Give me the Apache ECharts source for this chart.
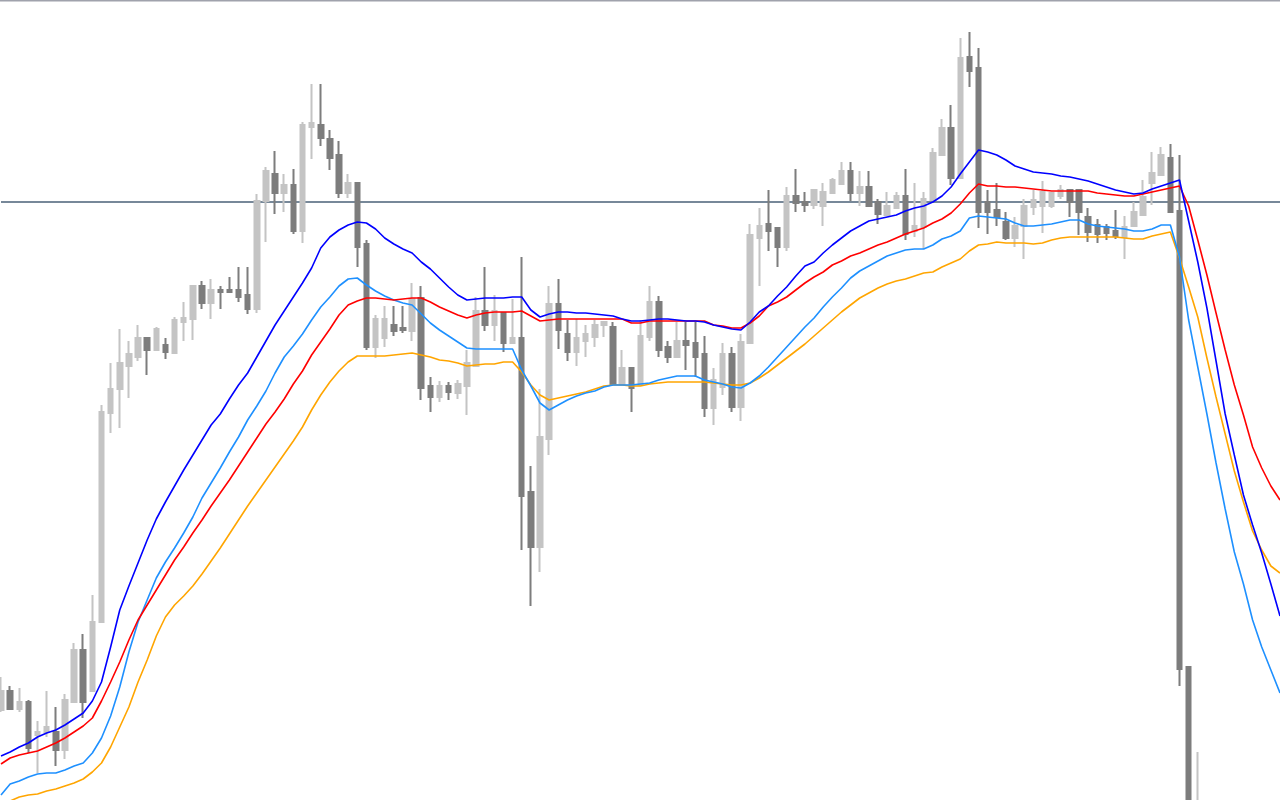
<!DOCTYPE html>
<html>
<head>
<meta charset="utf-8">
<script src="https://cdn.jsdelivr.net/npm/echarts/dist/echarts.min.js"></script>
<style>
html,body{margin:0;padding:0;background:#ffffff;}
#chart{width:1280px;height:800px;}
</style>
</head>
<body>
<div id="chart"></div>
<script>
// bar numbers (x categories)
const categories = Array.from({length: 141}, (_, i) => String(i + 1));

const opens = [2045,2054.5,2045.5,2049,2032.5,2034,2034,2025,2049,2075,
2054.5,2089,2193.5,2205.5,2217,2221.5,2231,2225,2227.5,2223.5,
2239,2240.5,2257,2248.5,2255,2255,2255,2252.5,2245.5,2299.5,
2313,2303.5,2307.5,2284.5,2336.5,2337.5,2330.5,2322.5,2303.5,2308.5,
2278,2226.5,2231,2237.5,2236,2234.5,2251,2207,2201.5,2207,
2203.5,2207,2217,2244.5,2237.5,2243.5,2228.5,2231,2154,2126.5,
2180.5,2248,2233,2224,2229.5,2231.5,2237.5,2236.5,2208,2216,
2207.5,2231.5,2249,2226.5,2221.5,2229.5,2228.5,2223,2196,2206.5,
2223,2196.5,2228.5,2281,2288,2286,2276.5,2302,2299,2297.5,
2297,2303.5,2308,2314.5,2303.5,2306.5,2299,2292.5,2296,2302,
2284.5,2286.5,2300,2322.5,2336,2311,2371.5,2366,2299,2295,
2289,2281,2287,2296.5,2297,2297,2302,2305,2305,2291.5,
2287.5,2286.5,2284.5,2281.5,2287,2292.5,2308.5,2312.5,2321,2294.5,
2066.5,1960,1985,1952,1930,1946,1928,1940,1935,1950,1938];

const closes = [2054.5,2045.5,2049,2026,2034,2036.5,2025,2050,2075,2049,
2089,2194,2205.5,2218.5,2223,2231,2225,2235.5,2224,2240,
2241,2257,2248.5,2255,2254,2254,2251.5,2245.5,2299.5,2314.5,
2303.5,2307.5,2284.5,2337.5,2338.5,2331,2321,2303.5,2308.5,2276.5,
2226.5,2240.5,2240.5,2234.5,2235,2250.5,2206,2201.5,2207,2204,
2208,2218.5,2244.5,2237.5,2244.5,2228.5,2231,2152,2126.5,2181.5,
2248,2235,2224,2231,2233,2237.5,2239,2208,2216,2206,
2232,2249,2225,2221.5,2229.5,2227.5,2221.5,2196,2210,2223,
2196.5,2229,2282.5,2287,2284.5,2276.5,2302,2298.5,2297.5,2305,
2304,2310,2314.5,2303.5,2306.5,2297,2293,2297,2302,2283,
2287,2300.5,2323.5,2336,2311,2371,2364.5,2294,2294,2291.5,
2281,2287,2297,2300,2304,2303.5,2305,2299,2294,2284,
2283,2283.5,2282,2286.5,2294,2301.5,2313.5,2322.5,2294,2065.5,
1950,1985,1952,1930,1946,1928,1940,1935,1950,1938,1944];

const highs = [2061.5,2057,2056,2050,2039.5,2054.5,2046.5,2053,2078.5,2083,
2102.5,2197.5,2218.5,2235.5,2229.5,2237.5,2231,2236.5,2231,2241.5,
2249,2257,2259.5,2260.5,2257,2261.5,2266.5,2266.5,2303,2316.5,
2324.5,2313,2315.5,2339,2358,2358,2335,2329.5,2313,2308.5,
2280,2242.5,2247,2247,2247,2258.5,2257,2211.5,2209.5,2209,
2210,2225,2251.5,2266.5,2252.5,2243.5,2250.5,2271.5,2167,2205.5,
2257,2260.5,2240,2240.5,2237.5,2240,2239,2239,2225,2216,
2240,2257,2252,2229.5,2239,2239,2239,2232,2216,2228.5,
2226.5,2233,2288,2296,2305,2286,2306.5,2315.5,2304,2305,
2308.5,2311,2319,2319,2314.5,2314.5,2300.5,2304,2304,2315.5,
2308.5,2304,2326,2340.5,2347.5,2381,2384,2376,2305,2308.5,
2294,2291.5,2300.5,2305,2309.5,2304,2307.5,2305,2305,2296,
2290.5,2288,2295,2292,2299,2310,2324,2326.5,2328,2322.5,
2067,2024,1992,1960,1951,1955,1948,1953,1958,1962,1955];

const lows = [2044,2045.5,2044,2023.5,2013.5,2031.5,2017,2020.5,2049,2041,
2054.5,2089,2183.5,2186,2201,2219.5,2212.5,2225,2220.5,2223.5,
2229.5,2230,2245.5,2240.5,2245.5,2254,2249,2243,2243.5,2279,
2293,2294,2283,2278.5,2320.5,2327,2315,2301,2301,2266.5,
2225,2221,2226.5,2232,2233.5,2229.5,2200,2194,2199,2200,
2200.5,2192.5,2217,2234.5,2229.5,2224,2228.5,2125,2097,2114,
2172.5,2225.5,2219.5,2217,2221.5,2226.5,2231.5,2208,2208,2194,
2207.5,2229.5,2221.5,2218.5,2221.5,2215,2211.5,2191.5,2187.5,2202.5,
2194,2189.5,2228.5,2257,2274.5,2266.5,2274.5,2294,2294,2295.5,
2287,2303.5,2308,2299.5,2297,2297,2288,2292.5,2295.5,2280,
2281.5,2275.5,2300,2322.5,2307.5,2311,2356.5,2286,2283,2287,
2280,2276.5,2270.5,2292.5,2283.5,2296,2300.5,2291.5,2282.5,2279,
2278.5,2280,2280.5,2270.5,2287,2292.5,2297.5,2312.5,2294,2057,
1935,1950,1940,1921,1922,1915,1920,1926,1930,1931,1930];

const maBlue = [2022,2024,2026.5,2028.5,2031.5,2033.5,2035,2037.5,2040.5,2043.5,
2049.5,2059,2076.5,2095,2107,2118.5,2130,2140.5,2149,2157,
2165,2172.5,2180,2187.5,2193,2200.5,2207.5,2213.5,2221.5,2229.5,
2237.5,2244.5,2251.5,2258.5,2266,2276,2281.5,2285,2287.5,2289,
2288.5,2285.5,2281,2278,2275.5,2273.5,2269,2265.5,2261,2256.5,
2252.5,2250,2250.5,2251,2251,2251,2251.5,2251.5,2245,2241.5,
2243,2244,2244,2243.5,2243.5,2243,2242.5,2242,2240.5,2239.5,
2239.5,2240,2240.5,2240.5,2240,2239.5,2239.5,2239,2237.5,2236.5,
2235.5,2235,2239,2244,2247,2252,2256.5,2262,2267,2269,
2273.5,2277.5,2281,2284.5,2287,2289.5,2290.5,2291.5,2292.5,2294.5,
2296,2297,2299,2302,2306.5,2313,2319,2325,2324,2322.5,
2320,2317,2315.5,2314,2313.5,2313,2312,2311.5,2310.5,2309.5,
2308,2306.5,2305,2304,2303,2303.5,2305.5,2307,2308.5,2310,
2289.5,2269,2246,2219.5,2193,2172.5,2152.5,2137.5,2123.5,2108,2092];

const maDodger = [2002.5,2008,2009.5,2011.5,2013,2013.5,2013.5,2015,2017,2018.5,
2023.5,2031,2042,2056.5,2074,2089,2100,2111,2119,2126,
2133.5,2141.5,2151,2158.5,2166,2174,2181.5,2190,2197,2204.5,
2213.5,2221.5,2227,2233,2240,2246.5,2251.5,2257,2260.5,2261,
2257.5,2254.5,2252,2250,2248.5,2247.5,2243,2238.5,2235,2232,
2229,2226,2225.5,2225.5,2225.5,2225.5,2225.5,2215,2207,2198.5,
2195,2197.5,2200,2202,2203.5,2204.5,2206.5,2207.5,2207.5,2207.5,
2208,2208.5,2210,2211,2212,2212,2212,2210,2209,2208,
2206.5,2206,2208.5,2212,2216.5,2221.5,2226.5,2231.5,2236.5,2241,
2246.5,2251.5,2256,2261,2264.5,2267,2269.5,2272,2273.5,2275,
2275.5,2275.5,2277.5,2280.5,2282,2284.5,2291,2292,2291.5,2291,
2290.5,2288.5,2287,2287,2287.5,2288,2289,2290,2290,2288,
2287,2286.5,2286,2285.5,2284.5,2284.5,2285.5,2287.5,2287.5,2271.5,
2240,2216.5,2193,2168.5,2145.5,2124,2108,2090,2076.5,2065,2053.5];

const maRed = [2018,2021,2022.5,2023.5,2024.5,2026.5,2028.5,2031,2034,2037,
2041,2049.5,2059,2069,2080,2090,2097.5,2105,2112.5,2120,
2126.5,2133.5,2140,2147,2153.5,2160,2167,2174,2181,2188,
2194,2200.5,2208,2214.5,2222.5,2229,2235.5,2242.5,2247.5,2249.5,
2251,2251,2250.5,2250,2250.5,2251,2251,2249,2246.5,2244.5,
2242.5,2241,2242.5,2243.5,2244,2244,2244,2244.5,2242,2239.5,
2240,2240.5,2240.5,2240.5,2240.5,2240.5,2240.5,2240.5,2240.5,2238.5,
2238.5,2239.5,2239.5,2239.5,2239.5,2239.5,2239.5,2239.5,2237.5,2237,
2236,2236,2238.5,2242,2247,2249,2251.5,2255,2258.5,2261.5,
2264,2267.5,2269.5,2272,2273.5,2275.5,2277.5,2279,2281,2283,
2284.5,2286,2288.5,2290.5,2293.5,2298,2303.5,2308,2307,2307,
2306.5,2306.5,2306,2305.5,2305,2304.5,2304.5,2304.5,2304.5,2304.5,
2303.5,2303,2302.5,2302,2302,2303,2304,2305,2306,2307,
2297,2280,2262.5,2243.5,2225,2207.5,2192.5,2176.5,2166,2157,2150];

const maOrange = [1998.5,1999.5,2001.5,2002.5,2003,2004.5,2005.5,2007,2008.5,2010.5,
2014,2018.5,2026.5,2036.5,2046.5,2059,2070,2082,2091.5,2097.5,
2102,2107,2113,2119.5,2126,2133,2140,2147,2153.5,2160,
2166.5,2173,2179.5,2186.5,2195,2202.5,2209,2214.5,2219,2222,
2222,2222,2222,2222.5,2223,2223.5,2222.5,2221.5,2220,2219.5,
2218.5,2217,2217.5,2218,2218,2219,2219,2214,2207.5,2202.5,
2200,2201,2202,2203,2204,2205.5,2207,2207.5,2207.5,2207,
2207,2208,2208.5,2209,2209,2209,2209,2209,2208.5,2208,
2207.5,2207.5,2208.5,2211,2214,2217.5,2221,2224.5,2228,2232,
2236,2240,2244,2247.5,2251,2253.5,2256,2258,2259.5,2260.5,
2262,2263.5,2264,2266.5,2268.5,2270.5,2274.5,2277.5,2278,2279,
2278.5,2278.5,2278.5,2278,2278.5,2280,2281,2281.5,2281.5,2281.5,
2281.5,2281.5,2281.5,2281,2280.5,2280.5,2282,2283,2284,2271,
2256.5,2241.5,2221,2201.5,2183,2164.5,2149,2134.5,2125,2117,2113.5];

const levelLine = 2299;

const candleData = opens.map((o, i) => [o, closes[i], lows[i], highs[i]]);

const chart = echarts.init(document.getElementById('chart'), null, {renderer: 'canvas'});

function lineSeries(name, data, color) {
  return {
    name: name,
    type: 'line',
    data: data,
    showSymbol: false,
    symbol: 'none',
    smooth: false,
    silent: true,
    lineStyle: {color: color, width: 1.6},
    z: 3
  };
}

chart.setOption({
  animation: false,
  backgroundColor: '#ffffff',
  grid: {left: 1, right: 0, top: 0, bottom: 0, containLabel: false},
  xAxis: {
    type: 'category',
    data: categories,
    boundaryGap: false,
    show: false
  },
  yAxis: {
    type: 'value',
    min: 2000,
    max: 2400,
    show: false,
    splitLine: {show: false}
  },
  graphic: [{
    type: 'rect',
    shape: {x: 0, y: 0, width: 1280, height: 1.5},
    style: {fill: '#a0a2ac'},
    silent: true,
    z: 100
  }],
  series: [
    {
      name: 'Price',
      type: 'candlestick',
      data: candleData,
      barWidth: 5,
      clip: false,
      silent: true,
      itemStyle: {
        color: '#c4c4c4',
        color0: '#7d7d7d',
        borderColor: '#c4c4c4',
        borderColor0: '#7d7d7d',
        borderColorDoji: '#7d7d7d',
        borderWidth: 2
      },
      markLine: {
        silent: true,
        symbol: ['none', 'none'],
        label: {show: false},
        lineStyle: {color: '#778899', width: 2, type: 'solid'},
        data: [{yAxis: levelLine}],
        z: 2
      },
      z: 2
    },
    lineSeries('MA Orange', maOrange, '#ffa500'),
    lineSeries('MA DodgerBlue', maDodger, '#1e90ff'),
    lineSeries('MA Red', maRed, '#ff0000'),
    lineSeries('MA Blue', maBlue, '#0000ff')
  ]
});
</script>
</body>
</html>
